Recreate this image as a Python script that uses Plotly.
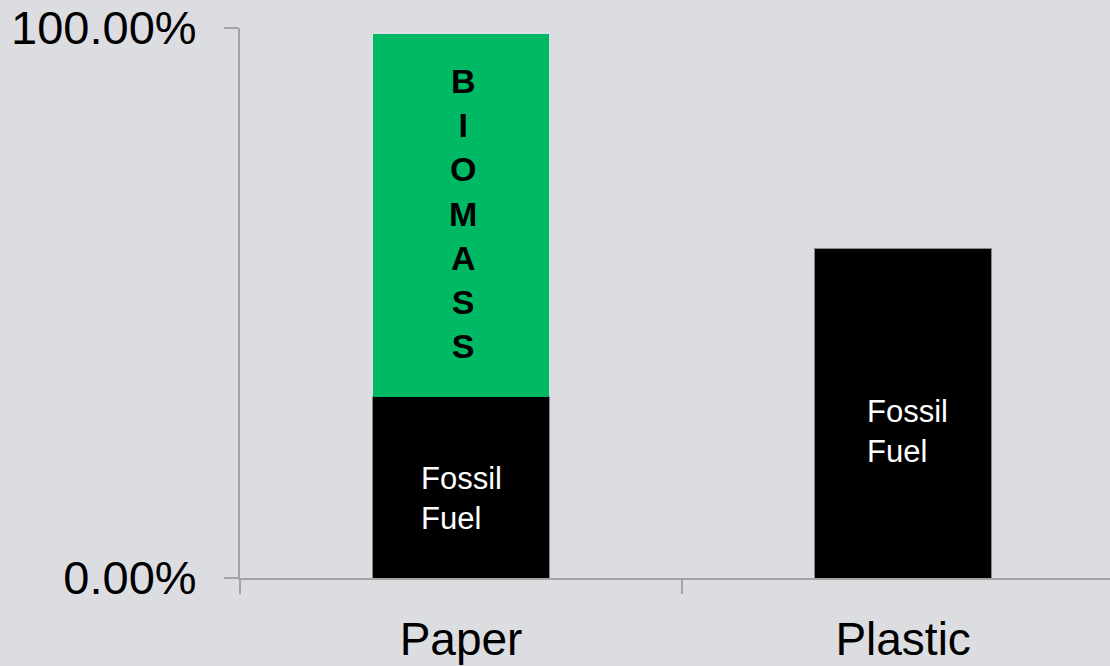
import plotly.graph_objects as go

# Share of feedstock by material
categories = ["Paper", "Plastic"]
fossil_fuel = [0.33, 0.60]
biomass = [0.66, None]

fossil_label = "Fossil<br>Fuel"
biomass_label = "<br>".join("BIOMASS")

BG = "#dcdde0"
GREEN = "#00b964"
AXIS = "#a4a4a4"
FONT = "Liberation Sans, Arial, sans-serif"

fig = go.Figure()
fig.add_trace(go.Bar(
    x=categories, y=fossil_fuel, name="Fossil Fuel",
    marker=dict(color="#000000", line=dict(color="#8a8a8a", width=1)),
    hoverinfo="skip",
))
fig.add_trace(go.Bar(
    x=categories, y=biomass, name="Biomass",
    marker=dict(color=GREEN, line=dict(width=0)),
    hoverinfo="skip",
))

# Labels inside the stacked segments
fig.add_annotation(x=categories[0], y=fossil_fuel[0] * 0.44, text=fossil_label,
                   xanchor="left", yanchor="middle", xshift=-42, align="left",
                   showarrow=False, font=dict(family=FONT, size=31, color="white"))
fig.add_annotation(x=categories[1], y=fossil_fuel[1] * 0.445, text=fossil_label,
                   xanchor="left", yanchor="middle", xshift=-38, align="left",
                   showarrow=False, font=dict(family=FONT, size=31, color="white"))
fig.add_annotation(x=categories[0], y=fossil_fuel[0] + biomass[0] / 2, text=biomass_label,
                   xanchor="center", yanchor="middle", xshift=2, yshift=2, align="center",
                   showarrow=False,
                   font=dict(family=FONT, size=34, color="black", weight="bold"))

fig.update_layout(
    width=1110, height=666,
    margin=dict(l=240, r=0, t=28, b=88),
    paper_bgcolor=BG, plot_bgcolor=BG,
    barmode="stack", bargap=0.6,
    showlegend=False,
    font=dict(family=FONT, color="black"),
    xaxis=dict(
        type="category", range=[-0.5, 1.468],
        showline=True, linecolor=AXIS, linewidth=2,
        ticks="outside", tickson="boundaries", ticklen=14, tickwidth=2, tickcolor=AXIS,
        showgrid=False, tickfont=dict(family=FONT, size=46, color="black"),
        ticklabelstandoff=20, fixedrange=True,
    ),
    yaxis=dict(
        range=[0, 1], tickvals=[0, 1], tickformat=".2%",
        showline=True, linecolor=AXIS, linewidth=2,
        ticks="outside", ticklen=14, tickwidth=2, tickcolor=AXIS,
        showgrid=True, gridcolor=AXIS, gridwidth=2, zeroline=False,
        tickfont=dict(family=FONT, size=47, color="black"),
        ticklabelstandoff=18, fixedrange=True,
    ),
)

fig.write_html("out.html", config={"displayModeBar": False})
